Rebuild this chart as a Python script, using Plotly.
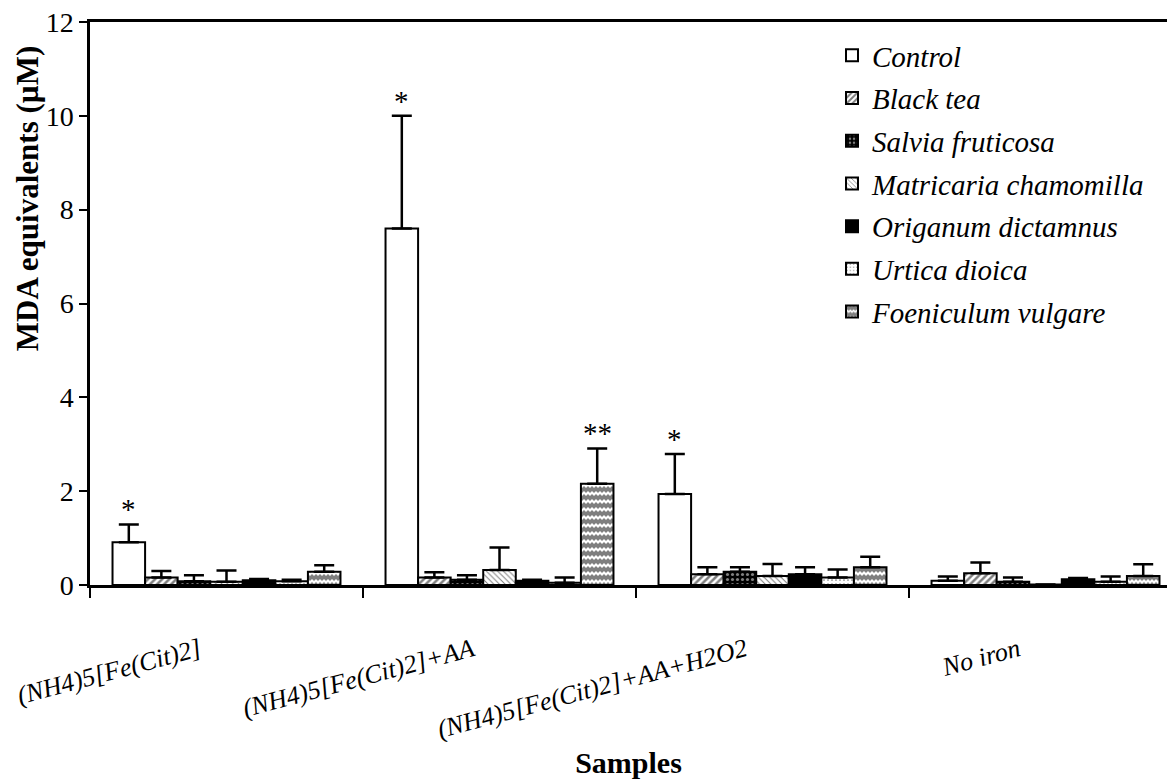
import plotly.graph_objects as go

# Treatment groups on the x axis
samples = ["(NH4)5[Fe(Cit)2]", "(NH4)5[Fe(Cit)2]+AA",
           "(NH4)5[Fe(Cit)2]+AA+H2O2", "No iron"]

# Series (extracts) in legend order
series = ["Control", "Black tea", "Salvia fruticosa", "Matricaria chamomilla",
          "Origanum dictamnus", "Urtica dioica", "Foeniculum vulgare"]

# Mean MDA equivalents (µM), one list per series, ordered like `samples`
control = [0.91, 7.60, 1.94, 0.09]
black_tea = [0.16, 0.16, 0.23, 0.25]
salvia = [0.08, 0.11, 0.28, 0.07]
matricaria = [0.07, 0.32, 0.19, 0.01]
origanum = [0.10, 0.09, 0.23, 0.12]
urtica = [0.08, 0.05, 0.16, 0.07]
foeniculum = [0.28, 2.16, 0.38, 0.19]

# Upper error (SD) for each mean
control_err = [0.38, 2.40, 0.85, 0.09]
black_tea_err = [0.14, 0.11, 0.15, 0.23]
salvia_err = [0.13, 0.10, 0.10, 0.09]
matricaria_err = [0.24, 0.48, 0.26, 0.00]
origanum_err = [0.03, 0.02, 0.15, 0.03]
urtica_err = [0.03, 0.11, 0.17, 0.11]
foeniculum_err = [0.14, 0.75, 0.22, 0.25]

# Significance marks: (series, sample, label)
significance = [("Control", samples[0], "*"),
                ("Control", samples[1], "*"),
                ("Control", samples[2], "*"),
                ("Foeniculum vulgare", samples[1], "**")]

means = [control, black_tea, salvia, matricaria, origanum, urtica, foeniculum]
errors = [control_err, black_tea_err, salvia_err, matricaria_err,
          origanum_err, urtica_err, foeniculum_err]

SERIF = "Liberation Serif, Times New Roman, serif"
# filled zigzag band, tiled for the wavy fill
ZIGZAG = "M0,2L2,0L4,2L6,0L8,2L8,7L6,5L4,7L2,5L0,7Z"

patterns = [
    dict(shape=""),
    dict(shape="/", fgcolor="black", bgcolor="white", size=5, solidity=0.5),
    dict(shape=".", fgcolor="white", bgcolor="black", size=5, solidity=0.3),
    dict(shape="\\", fgcolor="black", bgcolor="white", size=4, solidity=0.25),
    dict(shape=""),
    dict(shape=".", fgcolor="black", bgcolor="white", size=4, solidity=0.15),
    dict(path=ZIGZAG, fgcolor="black", bgcolor="white", size=8, solidity=0.5),
]
fills = ["white", "white", "black", "white", "black", "white", "white"]

fig = go.Figure()
for i, name in enumerate(series):
    fig.add_trace(go.Bar(
        name=name,
        x=samples,
        y=means[i],
        legendgroup=name,
        marker=dict(color=fills[i], pattern=patterns[i],
                    line=dict(color="black", width=2)),
        error_y=dict(type="data", symmetric=False, array=errors[i],
                     arrayminus=[0] * len(samples), color="black",
                     thickness=2.5, width=10),
    ))

# Layout geometry
W, H = 1167, 779
ML, MT, MB = 90, 22, 194
bargap = 0.165
x_range = [-0.5, 3.445]

plot_w = W - ML
cat_px = plot_w / (x_range[1] - x_range[0])
bar_px = cat_px * (1 - bargap) / len(series)

for name, sample, label in significance:
    i = series.index(name)
    j = samples.index(sample)
    fig.add_annotation(
        x=sample, y=means[i][j] + errors[i][j],
        xshift=(i - (len(series) - 1) / 2) * bar_px,
        yanchor="bottom", yshift=-3, showarrow=False, text=label,
        font=dict(family=SERIF, size=29, color="black"),
    )

# Y axis title placed as a rotated annotation
fig.add_annotation(
    xref="paper", yref="paper", x=-0.0585, y=0.687,
    xanchor="center", yanchor="middle",
    text="<b>MDA equivalents (µM)</b>", textangle=-90, showarrow=False,
    font=dict(family=SERIF, size=31, color="black"),
)

fig.update_layout(
    width=W, height=H,
    margin=dict(l=ML, r=0, t=MT, b=MB, autoexpand=False),
    paper_bgcolor="white", plot_bgcolor="white",
    barmode="group", bargap=bargap, bargroupgap=0,
    showlegend=True,
    legend=dict(
        xref="container", yref="container",
        x=832 / W, y=1 - 30 / H, xanchor="left", yanchor="top",
        font=dict(family=SERIF, size=29, color="black", style="italic"),
        traceorder="grouped", tracegroupgap=2,
        bgcolor="rgba(0,0,0,0)",
    ),
    xaxis=dict(
        range=x_range, showline=True, linecolor="black", linewidth=2.5,
        mirror=True, ticks="outside", tickson="boundaries", ticklen=10,
        tickwidth=2, tickcolor="black", tickangle=-15,
        tickmode="array", tickvals=samples,
        ticktext=[f"<i>{s}</i>" for s in samples],
        tickfont=dict(family=SERIF, size=26, color="black"),
        ticklabelshift=-27, ticklabelstandoff=37,
        title=dict(text="<b>Samples</b>", standoff=23,
                   font=dict(family=SERIF, size=30, color="black")),
        showgrid=False, automargin=False,
    ),
    yaxis=dict(
        range=[0, 12], dtick=2, showline=True, linecolor="black",
        linewidth=2.5, ticks="outside", ticklen=8, tickwidth=2,
        tickcolor="black", showgrid=False, zeroline=False, automargin=False,
        tickfont=dict(family=SERIF, size=28, color="black"),
    ),
)

fig.write_html("out.html")
